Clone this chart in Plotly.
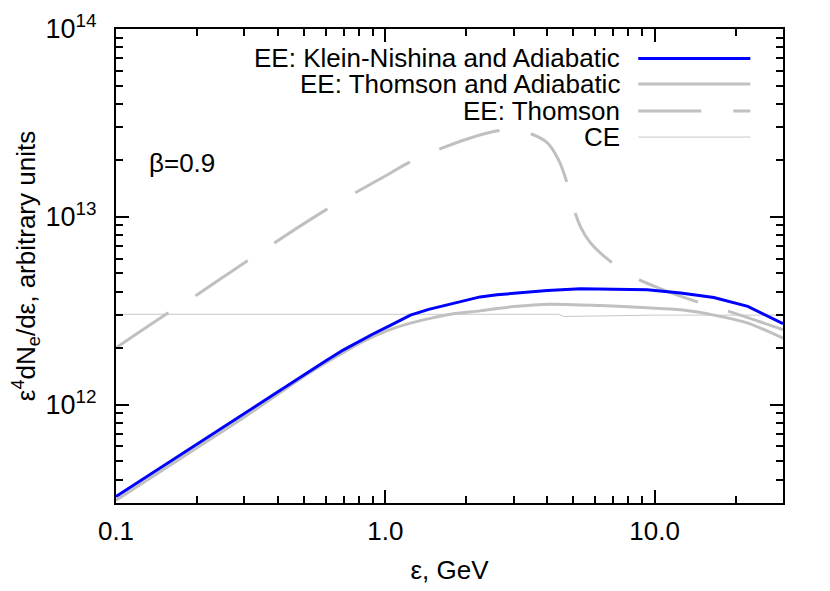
import plotly.graph_objects as go

# EE: Klein-Nishina and Adiabatic
kn_x = [0.1, 0.2, 0.3, 0.5, 0.6, 0.7, 0.8, 0.9, 1.04, 1.24, 1.45, 1.7, 2.0, 2.25, 2.6, 3.0, 4.0, 5.3,
        7.0, 9.4, 12.5, 16.6, 22.2, 30.0]
kn_y = [3.25e11, 6.2e11, 9.04e11, 1.45e12, 1.71e12, 1.96e12, 2.18e12, 2.38e12, 2.64e12, 3.0e12,
        3.22e12, 3.40e12, 3.61e12, 3.75e12, 3.85e12, 3.93e12, 4.06e12, 4.14e12, 4.13e12, 4.09e12,
        3.93e12, 3.72e12, 3.34e12, 2.70e12]

# EE: Thomson and Adiabatic
th_ad_x = [0.1, 0.2, 0.3, 0.5, 0.6, 0.7, 0.81, 1.04, 1.24, 1.5, 1.75, 2.25, 3.0, 4.1, 6.3, 9.4, 12.5,
           16.6, 22.2, 30.0]
th_ad_y = [3.1e11, 5.9e11, 8.6e11, 1.42e12, 1.67e12, 1.90e12, 2.14e12, 2.51e12, 2.72e12, 2.9e12,
           3.03e12, 3.16e12, 3.33e12, 3.43e12, 3.37e12, 3.28e12, 3.2e12, 3.0e12, 2.72e12, 2.26e12]

# EE: Thomson
th_x = [0.1, 0.156, 0.2, 0.307, 0.608, 1.0, 1.218, 1.56, 2.07, 2.61, 3.0, 3.4, 4.0, 4.4, 4.67,
        5.0, 5.31, 5.78, 6.75, 8.5, 10.8, 13.96, 18.1, 30.0]
th_y = [2.01e12, 3.08e12, 3.85e12, 5.83e12, 1.10e13, 1.65e13, 1.94e13, 2.27e13, 2.63e13, 2.87e13,
        2.9e13, 2.80e13, 2.48e13, 2.01e13, 1.61e13, 1.12e13, 8.85e12, 7.28e12, 5.9e12, 4.74e12,
        4.09e12, 3.58e12, 3.20e12, 2.51e12]

# CE
ce_x = [0.1, 1.0, 4.4, 4.6, 7.0, 10.0, 30.0]
ce_y = [3.03e12, 3.03e12, 3.03e12, 2.95e12, 2.98e12, 3.0e12, 3.0e12]

legend_labels = ["EE: Klein-Nishina and Adiabatic", "EE: Thomson and Adiabatic", "EE: Thomson", "CE"]

GRAY = "#c0c0c0"
BLUE = "#0000ff"
FONT = "Liberation Sans"

fig = go.Figure()
fig.add_trace(go.Scatter(x=ce_x, y=ce_y, mode="lines", line=dict(color="#c8c8c8", width=1)))
fig.add_trace(go.Scatter(x=th_x, y=th_y, mode="lines", line_shape="spline",
                         line=dict(color=GRAY, width=3, dash="63px,32px")))
fig.add_trace(go.Scatter(x=th_ad_x, y=th_ad_y, mode="lines", line_shape="spline",
                         line=dict(color=GRAY, width=3, smoothing=0.8)))
fig.add_trace(go.Scatter(x=kn_x, y=kn_y, mode="lines", line=dict(color=BLUE, width=3)))

# gnuplot-style key: text on the left, sample line on the right
styles = [dict(color=BLUE, width=3), dict(color=GRAY, width=3),
          dict(color=GRAY, width=3, dash="63px,32px"), dict(color="#c8c8c8", width=1)]
rows = [0.938, 0.884, 0.827, 0.772]
for label, st, ry in zip(legend_labels, styles, rows):
    fig.add_annotation(x=0.759, y=ry, xref="paper", yref="paper", text=label, showarrow=False,
                       xanchor="right", yanchor="middle", font=dict(size=26, color="black", family=FONT))
    fig.add_shape(type="line", xref="paper", yref="paper", x0=0.783, x1=0.951, y0=ry, y1=ry, line=st)

fig.add_annotation(x=0.047, y=0.717, xref="paper", yref="paper", text="β=0.9", showarrow=False,
                   xanchor="left", yanchor="middle", font=dict(size=26, color="black", family=FONT))

minor_x = [0.2, 0.3, 0.4, 0.5, 0.6, 0.7, 0.8, 0.9, 2, 3, 4, 5, 6, 7, 8, 9, 20, 30]
minor_y = [m * 10 ** e for e in (11, 12, 13) for m in range(2, 10)]

fig.update_xaxes(type="log", range=[-1, 1.4771], tickvals=[0.1, 1, 10], ticktext=["0.1", "1.0", "10.0"],
                 ticks="inside", ticklen=13, tickwidth=1.5, tickcolor="black", ticklabelstandoff=4,
                 minor=dict(tickvals=minor_x, ticks="inside", ticklen=7, tickwidth=1.5, tickcolor="black"),
                 showline=True, linecolor="black", linewidth=2, mirror="allticks", showgrid=False,
                 zeroline=False, automargin=False, title=dict(text="ε, GeV", standoff=16, font=dict(size=26)),
                 tickfont=dict(size=26, family=FONT, color="black"))
fig.update_yaxes(type="log", range=[11.477, 14], tickvals=[1e12, 1e13, 1e14],
                 ticktext=["10<sup>12</sup>", "10<sup>13</sup>", "10<sup>14</sup>"],
                 ticks="inside", ticklen=13, tickwidth=1.5, tickcolor="black", ticklabelstandoff=12,
                 minor=dict(tickvals=minor_y, ticks="inside", ticklen=7, tickwidth=1.5, tickcolor="black"),
                 showline=True, linecolor="black", linewidth=2, mirror="allticks", showgrid=False,
                 zeroline=False, automargin=False,
                 title=dict(text="ε<sup>4</sup>dN<sub>e</sub>/dε, arbitrary units", standoff=3, font=dict(size=26)),
                 tickfont=dict(size=27, family=FONT, color="black"))

fig.update_layout(width=830, height=591, showlegend=False,
                  margin=dict(l=108, r=55, t=21, b=96),
                  plot_bgcolor="white", paper_bgcolor="white",
                  font=dict(family=FONT, size=26, color="black"))

fig.write_html("out.html")
